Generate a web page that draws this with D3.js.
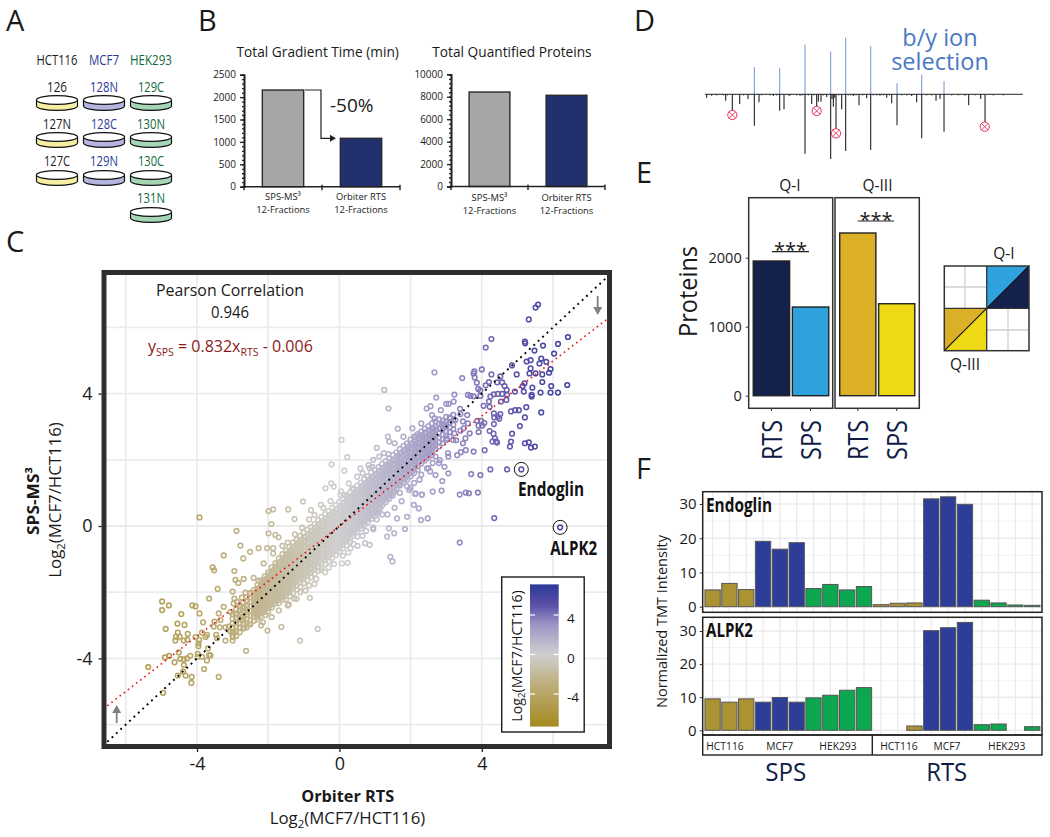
<!DOCTYPE html>
<html><head><meta charset="utf-8">
<script src="https://cdn.jsdelivr.net/npm/d3@7"></script>
<style>
html,body{margin:0;padding:0;background:#fff}
svg{display:block}
text{font-family:"Open Sans","Noto Sans",sans-serif;fill:#1a1a1a}
</style></head><body>
<svg id="c" width="1050" height="837"></svg>
<script>
// ---------- DATA ----------
const plexLabels=[["126","127N","127C"],["128N","128C","129N"],["129C","130N","130C","131N"]];
const cellLines=["HCT116","MCF7","HEK293"];
const gradientTime=[2158,1080];
const quantProteins=[8420,8130];
const methodLabels=["SPS-MS³","Orbiter RTS"];
const mzBlue=[343,419,495,572,617,692,771,845,912];
const intBlue=[81,78,149,128,170,144,33,59,39];
const mzBlack=[200,215,257,277,299,324,343,357,400,419,432,450,480,495,515,530,535,543,560,572,576,580,584,588,605,617,640,657,680,692,720,740,755,771,815,830,845,888,900,912,975,986,1022,1035];
const intBlack=[10,4,19,55,29,14,94,24,5,49,45,4,4,178,29,50,22,22,8,194,14,37,10,110,45,170,5,33,12,167,4,10,27,93,5,24,132,19,14,112,4,33,14,95];
const mzMarked=[277,530,588,1034];
const intMarked=[62,50,117,97];
const quadLabels=["RTS","SPS","RTS","SPS"];
const quadValues=[1952,1285,2358,1333];
const quadColors=["#14224B","#2FA1DC","#DBB026","#EDD916"];
const endoglin=[4.9,6.8,5.0,19.1,16.8,18.7,5.3,6.5,4.9,5.9,0.6,1.0,1.1,31.5,32.1,29.9,1.9,1.1,0.5,0.4];
const alpk2=[9.5,8.5,9.5,8.5,9.9,8.5,9.8,10.6,12.1,12.9,0,0,1.3,30.1,31.0,32.6,1.7,1.9,0,1.1];
const channelGroup=["H","H","H","M","M","M","K","K","K","K","H","H","H","M","M","M","K","K","K","K"];
const fitSlope=0.832, fitIntercept=-0.006;
const highlighted=[[5.11,1.71],[6.2,-0.04]];
// scatter: [RTS, SPS] log2 ratios
const scatterHigh=[[5.58,6.69],[5.51,6.6],[5.32,6.24],[6.42,5.71],[6.14,5.5],[5.72,5.45],[5.21,5.57],[5.22,5.52],[5.48,5.3],[4.27,5.65],[4.11,5.39],[6.03,5.21],[5.67,5.06],[5.37,5.01],[5.26,4.97],[5.62,4.91],[5.81,4.96],[5.93,4.74],[5.37,4.76],[4.85,4.85],[5.89,4.63],[5.51,4.61],[5.7,4.58],[5.34,4.61],[4.98,4.58],[4.27,4.58],[4,4.73],[3.79,4.67],[3.77,4.61],[3.8,4.49],[3.45,4.47],[2.67,4.64],[4.52,4.52],[5.7,4.35],[5.2,4.31],[5.15,4.23],[5.95,4.23],[6.4,4.26],[5.42,4.18],[4.2,4.35],[4.43,4.34],[4.11,4.25],[3.86,4.33],[3.9,4.14],[3.96,4.09],[4.57,4.34],[4.64,4.23],[4.7,4.11],[4.93,4.06],[5.18,4.06],[5.65,4.03],[5.93,4.03],[6.14,4.03],[5.4,3.96],[5.4,3.91],[4.24,3.91],[4.34,3.98],[4.45,3.99],[4.57,3.99],[4.71,3.96],[3.77,3.92],[3.61,3.96],[3.68,3.93],[3.23,3.97],[2.72,3.88],[3.96,3.93],[4.2,3.76],[4.69,3.81],[3.21,3.76],[3.07,3.69],[3,3.69],[2.56,3.62],[2.45,3.55],[3.39,3.54],[4.05,3.63],[4.22,3.6],[4.54,3.76],[5.25,3.59],[5.04,3.5],[4.94,3.5],[4.82,3.46],[5.67,3.43],[4.34,3.4],[4.52,3.38],[4.45,3.3],[4.35,3.28],[4.49,3.24],[3.59,3.35],[3.4,3.38],[3.12,3.25],[2.67,3.25],[3.26,3.2],[3.47,3.16],[3.87,3.18],[3.98,3.18],[4.07,3.11],[4.34,3.08],[3.61,3.1],[5.21,3.28],[5.07,3.02],[3.49,2.95],[3.91,3.03],[4.01,3.03],[4.85,2.79],[4.22,2.87],[4.33,2.79],[3.66,2.8],[3.91,2.84],[3.23,2.8],[3.4,2.88],[2.95,3.08],[2.88,3.08],[2.84,2.95],[2.4,2.82],[2.26,2.75],[2.15,2.7],[1.64,2.94],[1.36,2.7],[1.4,2.55],[1.26,4.11],[1.38,3.55],[4.82,2.55],[4.79,2.4],[5.21,2.5],[5.32,2.53],[5.38,2.37],[5.49,2.4],[4.4,2.55],[4.3,2.55],[4.37,2.65],[4.43,2.52],[3.54,2.65],[3.47,2.5],[3.28,2.59],[3.02,2.64],[3.77,2.25],[4.08,2.29],[3.55,2.29],[3.41,2.23],[3.31,2.14],[3.06,2.1],[4.24,1.71],[4.71,1.71],[5.11,1.71],[3.7,1.57],[3.96,1.54],[3.06,1.59],[2.7,1.54],[2.89,1.36],[2.87,1.07],[2.62,1.04],[3.38,0.95],[3.55,1.01],[3.64,0.99],[3.89,1.01],[2.31,0.95],[2.14,0.99],[1.96,1.09],[1.71,1.26],[2.46,1.74],[2.95,1.79],[2.82,1.99],[2.7,2.1],[4.35,0.24],[3.38,-0.5],[6.2,-0.04],[1.43,-0.93],[1.49,-1.07]];
const scatterLow=[[-3.93,0.26],[-2.89,-0.15],[-4.98,-2.28],[-4.79,-2.4],[-4.98,-2.54],[-4.13,-2.4],[-4.04,-2.43],[-4.44,-2.66],[-3.93,-2.64],[-3.66,-2.19],[-3.42,-1.9],[-3.25,-0.89],[-2.78,-0.59],[-2.51,-0.78],[-2.7,-0.98],[-3.56,-1.25],[-3.52,-1.34],[-2.95,-1.36],[-2.92,-1.63],[-2.84,-1.72],[-2.69,-1.6],[-3.83,-2.91],[-4.55,-2.95],[-4.35,-2.99],[-4.88,-3.11],[-4.54,-3.22],[-4.26,-3.26],[-4.59,-3.34],[-4.49,-3.34],[-4.37,-3.46],[-4.27,-3.44],[-4.61,-3.46],[-4.04,-3.36],[-3.94,-3.44],[-3.96,-3.55],[-3.96,-3.63],[-3.86,-3.22],[-3.72,-3.29],[-3.76,-3.35],[-3.53,-3.04],[-3.39,-2.64],[-3.25,-2.44],[-3.34,-2.84],[-3.51,-2.89],[-3.36,-3.06],[-3.2,-3.06],[-3.11,-3.04],[-3.46,-3.29],[-3.44,-3.39],[-3.2,-3.46],[-3.06,-3.19],[-2.97,-3.22],[-2.99,-3.36],[-2.74,-2.76],[-2.67,-3.08],[-2.53,-2.96],[-2.62,-3.77],[-2.02,-3.16],[-1.63,-3.05],[-1.11,-3.46],[-0.61,-3.11],[-4.51,-3.82],[-4.78,-3.92],[-4.9,-3.97],[-4.47,-4.01],[-4.37,-4.03],[-4.28,-4],[-4.19,-3.92],[-4.63,-4.12],[-4.37,-4.2],[-4.39,-4.4],[-4.32,-4.52],[-4.15,-4.56],[-4.16,-4.74],[-4.54,-4.52],[-4.95,-5.04],[-5.37,-4.26],[-3.8,-4.32],[-3.72,-4.06],[-3.39,-4.56],[-3.69,-3.7],[-3.66,-3.9],[-3.62,-3.91],[-3.98,-3.86],[-3.98,-3.95],[-3.86,-3.95],[-3,-1.98],[-2.95,-2.19],[-2.88,-2.29],[-2.74,-2.16],[-2.64,-2.01],[-2.5,-2.05],[-2.41,-1.57],[-2.27,-1.65],[-2.13,-1.63],[-2.13,-1.13],[-2.03,-0.67],[-1.86,-0.67],[-2.27,-0.67],[-1.86,-0.83],[-1.99,-0.22],[-1.8,-0.27],[-1.71,-0.34],[-1.91,0.06],[-1.99,0.45],[-1.27,-2.19],[-0.83,-2.17],[-1.42,-2.37],[-1.63,-2.1],[-2.15,-2.91],[-2.31,-2.74],[-2.27,-2.54],[-2.08,-2.69],[-2.59,-2.59],[-2.41,-2.64],[-2.97,-2.34],[-2.78,-2.44],[-2.69,-2.49],[-2.59,-2.39],[-3.06,-2.59],[-2.88,-2.64],[-2.74,-2.84]];
const scatterFringe=[[0.06,2.6],[1.05,2.36],[1.38,2.17],[0.22,2.08],[-0.22,1.86],[0.14,1.67],[-0.39,1.14],[-0.16,1.19],[-0.23,1.29],[-1.02,0.74],[-1.44,0.5],[-1.86,0.5],[-1.26,0.21],[-0.52,0.64],[-0.8,0.48],[-0.7,0.33],[0.07,-1.13],[0.23,-1.11],[-0.51,-1.33],[1.84,-0.09],[1.39,-0.07],[1.54,-0.22],[1.34,-0.32],[0.85,-0.57],[0.72,-0.52],[0.5,-0.32],[0.51,-0.6],[0.31,-0.67],[2.09,0.64],[2.23,0.53],[1.62,0.23],[1.9,0.28],[2.29,0.18],[2.48,0.23],[2.13,0.97],[2.32,0.95],[1.32,1.74],[0.92,1.79],[0.59,1.74],[0.82,1.84],[0.5,1.49],[0.26,1.29],[0.36,1.14],[0.03,0.94],[0.12,0.94],[0.22,0.89],[0.95,2],[1.12,2.1],[1.7,1.0],[1.9,1.2],[2.1,1.3],[2.3,1.55],[2.5,1.75],[2.62,1.9],[1.2,0.35],[1.05,0.2],[0.95,-0.05],[0.75,-0.15],[-0.3,-1.25],[-0.65,-1.6],[-0.85,-1.8],[-1.1,-2.0],[-0.4,-1.4],[0.1,-0.9],[0.25,-0.8],[-1.6,-0.6],[-1.45,-0.5],[-1.25,-0.25],[-1.05,-0.05],[-0.85,0.2],[-0.45,0.55],[-0.25,0.75],[0.05,1.05],[0.65,1.6],[0.85,1.75],[1.25,2.2],[1.55,2.5],[1.8,2.7],[2.05,2.95],[2.3,3.1],[2.6,3.35],[2.85,3.5],[-2.2,-3.0],[-1.9,-2.75],[-1.7,-2.55],[-1.45,-2.4],[-1.2,-2.2],[-0.95,-1.95],[-0.7,-1.75],[-0.15,-1.15],[0.4,-0.55],[0.65,-0.3],[0.95,-0.1],[1.35,0.35],[1.55,0.55],[1.75,0.75],[2.0,1.15],[2.25,1.4],[2.55,1.65],[2.8,1.9],[3.05,2.2],[3.2,2.6]];
// dense core: first number is RTS, the rest are SPS readings at that RTS
const coreRows=[
[-3,-2.66,-2.8,-2.94,-3.07,-3.2,-3.33,-3.46],[-2.9,-2.52,-2.66,-2.79,-2.92,-3.05,-3.19,-3.32],[-2.8,-2.4,-2.53,-2.67,-2.81,-2.94,-3.07,-3.21],[-2.7,-2.3,-2.44,-2.57,-2.7,-2.83,-2.97,-3.1],[-2.6,-2.15,-2.28,-2.42,-2.55,-2.68,-2.81,-2.95,-3.06],[-2.5,-2.02,-2.16,-2.3,-2.43,-2.56,-2.7,-2.84,-2.97],[-2.4,-1.93,-2.06,-2.2,-2.33,-2.46,-2.6,-2.73,-2.86],[-2.3,-1.78,-1.92,-2.05,-2.18,-2.31,-2.45,-2.58,-2.72,-2.82],[-2.2,-1.65,-1.79,-1.93,-2.06,-2.2,-2.33,-2.46,-2.6,-2.73],[-2.1,-1.52,-1.66,-1.8,-1.94,-2.07,-2.2,-2.34,-2.47,-2.6],[-2,-1.4,-1.54,-1.68,-1.81,-1.95,-2.08,-2.21,-2.35,-2.48,-2.58],[-1.9,-1.25,-1.39,-1.53,-1.67,-1.8,-1.93,-2.06,-2.2,-2.33,-2.46],[-1.8,-1.12,-1.26,-1.4,-1.54,-1.68,-1.81,-1.94,-2.08,-2.21,-2.34],[-1.7,-0.98,-1.12,-1.26,-1.4,-1.54,-1.67,-1.8,-1.94,-2.07,-2.2,-2.33],[-1.6,-0.85,-1,-1.14,-1.28,-1.42,-1.56,-1.69,-1.83,-1.96,-2.1,-2.23],[-1.5,-0.74,-0.88,-1.02,-1.16,-1.3,-1.44,-1.57,-1.71,-1.84,-1.98,-2.11,-2.22],[-1.4,-0.62,-0.76,-0.9,-1.04,-1.18,-1.32,-1.46,-1.6,-1.73,-1.87,-2,-2.12],[-1.3,-0.5,-0.64,-0.78,-0.92,-1.06,-1.2,-1.34,-1.47,-1.61,-1.75,-1.88,-2.02],[-1.2,-0.42,-0.56,-0.7,-0.84,-0.98,-1.12,-1.26,-1.39,-1.53,-1.67,-1.8,-1.92],[-1.1,-0.3,-0.45,-0.59,-0.73,-0.87,-1.01,-1.15,-1.28,-1.42,-1.56,-1.7,-1.84],[-1,-0.2,-0.34,-0.48,-0.62,-0.76,-0.9,-1.04,-1.18,-1.32,-1.46,-1.6,-1.73],[-0.9,-0.12,-0.26,-0.4,-0.54,-0.68,-0.82,-0.96,-1.09,-1.23,-1.37,-1.51,-1.64],[-0.8,-0.03,-0.17,-0.31,-0.45,-0.59,-0.73,-0.87,-1,-1.14,-1.28,-1.42,-1.55],[-0.7,0.06,-0.08,-0.22,-0.36,-0.5,-0.64,-0.78,-0.91,-1.05,-1.19,-1.33,-1.45],[-0.6,0.17,0.03,-0.11,-0.25,-0.39,-0.53,-0.67,-0.81,-0.95,-1.08,-1.22,-1.36],[-0.5,0.28,0.14,0,-0.14,-0.28,-0.42,-0.56,-0.7,-0.84,-0.98,-1.12,-1.26],[-0.4,0.36,0.22,0.08,-0.06,-0.2,-0.34,-0.48,-0.62,-0.76,-0.9,-1.03,-1.15],[-0.3,0.45,0.31,0.17,0.03,-0.11,-0.25,-0.39,-0.53,-0.67,-0.81,-0.95,-1.06],[-0.2,0.55,0.41,0.27,0.13,-0.01,-0.15,-0.29,-0.43,-0.57,-0.71,-0.85,-0.96],[-0.1,0.63,0.49,0.35,0.21,0.07,-0.07,-0.21,-0.35,-0.49,-0.63,-0.77,-0.88],[0,0.73,0.59,0.45,0.31,0.17,0.03,-0.11,-0.25,-0.39,-0.53,-0.67,-0.78],[0.1,0.82,0.68,0.54,0.4,0.26,0.12,-0.02,-0.16,-0.3,-0.44,-0.58,-0.68],[0.2,0.93,0.79,0.65,0.51,0.37,0.23,0.09,-0.05,-0.19,-0.33,-0.47,-0.58],[0.3,1.02,0.88,0.74,0.6,0.46,0.32,0.18,0.04,-0.1,-0.24,-0.38,-0.48],[0.4,1.1,0.96,0.82,0.68,0.54,0.4,0.26,0.12,-0.02,-0.16,-0.29],[0.5,1.22,1.08,0.94,0.8,0.66,0.52,0.38,0.24,0.1,-0.04,-0.17],[0.6,1.31,1.17,1.03,0.89,0.75,0.61,0.47,0.33,0.19,0.05,-0.08],[0.7,1.42,1.28,1.14,1,0.86,0.72,0.58,0.44,0.3,0.16,0.03],[0.8,1.5,1.36,1.22,1.08,0.94,0.8,0.66,0.52,0.38,0.24,0.11],[0.9,1.62,1.48,1.34,1.2,1.06,0.92,0.78,0.64,0.5,0.36,0.22],[1,1.7,1.56,1.42,1.28,1.14,1,0.86,0.72,0.58,0.44,0.31],[1.1,1.78,1.64,1.5,1.36,1.22,1.08,0.94,0.8,0.66,0.52,0.4],[1.2,1.88,1.74,1.6,1.46,1.32,1.18,1.04,0.9,0.76,0.62],[1.3,1.96,1.82,1.68,1.54,1.4,1.26,1.12,0.98,0.84,0.72],[1.4,2.05,1.91,1.77,1.63,1.49,1.35,1.21,1.07,0.93,0.82],[1.5,2.14,2,1.86,1.72,1.58,1.44,1.3,1.16,1.02,0.92],[1.6,2.22,2.08,1.94,1.8,1.66,1.52,1.38,1.24,1.12],[1.7,2.33,2.19,2.05,1.91,1.77,1.63,1.49,1.35,1.22],[1.8,2.42,2.28,2.14,2,1.86,1.72,1.58,1.44,1.32],[1.9,2.5,2.36,2.22,2.08,1.94,1.8,1.66,1.52,1.4],[2,2.62,2.48,2.34,2.2,2.06,1.92,1.78,1.64,1.5],[2.1,2.7,2.56,2.42,2.28,2.14,2,1.86,1.72,1.6],[2.2,2.78,2.64,2.5,2.36,2.22,2.08,1.94,1.8,1.7],[2.3,2.85,2.71,2.57,2.43,2.29,2.15,2.01,1.88],[2.4,2.94,2.8,2.66,2.52,2.38,2.24,2.1,1.98],[2.5,3.02,2.88,2.74,2.6,2.46,2.32,2.18,2.06],[2.6,3.1,2.96,2.82,2.68,2.54,2.4,2.26,2.14],[2.7,3.16,3.02,2.88,2.74,2.6,2.46,2.32],[2.8,3.22,3.08,2.94,2.8,2.66,2.52,2.4],[2.9,3.18,3.04,2.9,2.76,2.62,2.5],[3,3.3,3.14,3,2.86,2.72,2.6],[3.1,3.28,3.12,2.98,2.84,2.7],[3.2,3.36,3.2,3.06,2.92]];
const coreRowsInner=[
[-2.35,-2,-2.13,-2.26,-2.39,-2.53,-2.66],[-2.25,-1.86,-2,-2.13,-2.26,-2.39,-2.52,-2.66],[-2.15,-1.73,-1.86,-2,-2.13,-2.27,-2.4,-2.54],[-2.05,-1.6,-1.74,-1.88,-2.01,-2.15,-2.28,-2.41],[-1.95,-1.46,-1.6,-1.74,-1.87,-2,-2.14,-2.27,-2.4],[-1.85,-1.33,-1.47,-1.6,-1.74,-1.87,-2.01,-2.14,-2.28],[-1.75,-1.19,-1.33,-1.47,-1.61,-1.74,-1.88,-2.01,-2.15,-2.26],[-1.65,-1.07,-1.21,-1.35,-1.49,-1.62,-1.76,-1.9,-2.03,-2.17],[-1.55,-0.95,-1.09,-1.23,-1.37,-1.5,-1.64,-1.78,-1.91,-2.05],[-1.45,-0.83,-0.97,-1.11,-1.25,-1.39,-1.53,-1.66,-1.8,-1.94],[-1.35,-0.71,-0.85,-0.99,-1.13,-1.27,-1.41,-1.54,-1.68,-1.82],[-1.25,-0.6,-0.74,-0.88,-1.02,-1.16,-1.3,-1.43,-1.57,-1.71],[-1.15,-0.5,-0.64,-0.78,-0.92,-1.06,-1.2,-1.34,-1.48,-1.62],[-1.05,-0.41,-0.55,-0.69,-0.83,-0.97,-1.11,-1.25,-1.39,-1.53],[-0.95,-0.33,-0.47,-0.61,-0.75,-0.89,-1.03,-1.16,-1.3,-1.44],[-0.85,-0.24,-0.38,-0.52,-0.66,-0.8,-0.94,-1.07,-1.21,-1.35],[-0.75,-0.15,-0.29,-0.43,-0.57,-0.71,-0.85,-0.98,-1.12,-1.26],[-0.65,-0.04,-0.18,-0.32,-0.46,-0.6,-0.74,-0.88,-1.02,-1.15],[-0.55,0.07,-0.07,-0.21,-0.35,-0.49,-0.63,-0.77,-0.91,-1.05],[-0.45,0.15,0.01,-0.13,-0.27,-0.41,-0.55,-0.69,-0.83,-0.96],[-0.35,0.24,0.1,-0.04,-0.18,-0.32,-0.46,-0.6,-0.74,-0.88],[-0.25,0.34,0.2,0.06,-0.08,-0.22,-0.36,-0.5,-0.64,-0.78],[-0.15,0.42,0.28,0.14,0,-0.14,-0.28,-0.42,-0.56,-0.7],[-0.05,0.52,0.38,0.24,0.1,-0.04,-0.18,-0.32,-0.46,-0.6],[0.05,0.61,0.47,0.33,0.19,0.05,-0.09,-0.23,-0.37,-0.51],[0.15,0.72,0.58,0.44,0.3,0.16,0.02,-0.12,-0.26,-0.4],[0.25,0.81,0.67,0.53,0.39,0.25,0.11,-0.03,-0.17,-0.31],[0.35,0.89,0.75,0.61,0.47,0.33,0.19,0.05,-0.09,-0.23],[0.45,1.01,0.87,0.73,0.59,0.45,0.31,0.17,0.03,-0.11],[0.55,1.1,0.96,0.82,0.68,0.54,0.4,0.26,0.12,-0.02],[0.65,1.21,1.07,0.93,0.79,0.65,0.51,0.37,0.23,0.09],[0.75,1.29,1.15,1.01,0.87,0.73,0.59,0.45,0.31,0.17],[0.85,1.41,1.27,1.13,0.99,0.85,0.71,0.57,0.43,0.29],[0.95,1.49,1.35,1.21,1.07,0.93,0.79,0.65,0.51,0.37],[1.05,1.57,1.43,1.29,1.15,1.01,0.87,0.73,0.59,0.45],[1.15,1.67,1.53,1.39,1.25,1.11,0.97,0.83,0.69,0.55],[1.25,1.75,1.61,1.47,1.33,1.19,1.05,0.91,0.77],[1.35,1.84,1.7,1.56,1.42,1.28,1.14,1,0.86],[1.45,1.93,1.79,1.65,1.51,1.37,1.23,1.09,0.95],[1.55,2.01,1.87,1.73,1.59,1.45,1.31,1.17,1.03],[1.65,2.12,1.98,1.84,1.7,1.56,1.42,1.28],[1.75,2.21,2.07,1.93,1.79,1.65,1.51,1.37],[1.85,2.29,2.15,2.01,1.87,1.73,1.59,1.45],[1.95,2.41,2.27,2.13,1.99,1.85,1.71,1.57],[2.05,2.49,2.35,2.21,2.07,1.93,1.79,1.65],[2.15,2.57,2.43,2.29,2.15,2.01,1.87],[2.25,2.64,2.5,2.36,2.22,2.08,1.94],[2.35,2.73,2.59,2.45,2.31,2.17,2.03],[2.45,2.81,2.67,2.53,2.39,2.25,2.11],[2.55,2.89,2.75,2.61,2.47,2.33,2.19],[2.65,2.95,2.81,2.67,2.53,2.39]];
const colorStops=[-7.3,-3,0,3,5,7.1];
const colorRange=["#A58A20","#BDAE7C","#CFCFCF","#9C96C6","#5A50A8","#2B3A97"];
const NAVY="#101B45", FRAME="#2e2e2e";

// ---------- HELPERS ----------
const svg=d3.select("#c");
function T(p,x,y,s,o={}){
  const t=p.append("text").attr("x",x).attr("y",y).text(s)
   .attr("font-size",o.size||12).attr("text-anchor",o.anchor||"middle");
  if(o.fill)t.style("fill",o.fill);
  if(o.weight)t.attr("font-weight",o.weight);
  if(o.len)t.attr("textLength",o.len).attr("lengthAdjust","spacingAndGlyphs");
  if(o.rot)t.attr("transform",`rotate(${o.rot},${x},${y})`);
  return t;
}
function logLabel(p,x,y,size,o={}){
  const t=T(p,x,y,"Log",{size,...o});
  t.append("tspan").attr("dy",size*0.25).attr("font-size",size*0.68).text("2");
  t.append("tspan").attr("dy",-size*0.25).text("(MCF7/HCT116)");
  return t;
}
["A","B","C","D","E","F"].forEach((l,i)=>{
  const pos=[[6,31],[198,31],[6,252],[634,31],[636,183],[636,479]][i];
  T(svg,pos[0],pos[1],l,{size:29,anchor:"start"});
});

// ---------- A ----------
const gA=svg.append("g");
const dishCol=["#F6EEA2","#B5B4DE","#A4D6B6"];
const txtCol=["#1c1c1c","#2B3A97","#0E6B3A"];
const colX=d3.scalePoint().domain(cellLines).range([57,151]);
const rowBase=[92,129,166,203];
const rowDish=[100,137,175,212];
const headLen=[41,30,42];
cellLines.forEach((c,i)=>{
  const cx=colX(c);
  T(gA,cx,65,c,{size:15,fill:txtCol[i],len:headLen[i]});
  plexLabels[i].forEach((lab,r)=>{
    T(gA,cx,rowBase[r],lab,{size:15,fill:txtCol[i],len:lab.length===3?20:(lab.endsWith("C")?26:28)});
    const y=rowDish[r],rx=20.5,ry=4.4,h=6;
    gA.append("path").attr("d",`M${cx-rx},${y}v${h}A${rx},${ry} 0 0 0 ${cx+rx},${y+h}v${-h}z`)
      .attr("fill",dishCol[i]).attr("stroke","#111").attr("stroke-width",1.2);
    gA.append("ellipse").attr("cx",cx).attr("cy",y).attr("rx",rx).attr("ry",ry)
      .attr("fill","#fff").attr("stroke","#111").attr("stroke-width",1.2);
  });
});

// ---------- B ----------
function barB(cfg){
  const g=svg.append("g");
  const y=d3.scaleLinear().domain([0,cfg.max]).range([cfg.y0,cfg.y1]);
  const x=d3.scaleBand().domain(methodLabels).range([cfg.x0,cfg.x1]).paddingInner(0.47).paddingOuter(0.235);
  const minor=g.append("g").attr("transform",`translate(${cfg.x0},0)`)
    .call(d3.axisLeft(y).tickValues(d3.range(0,cfg.max+1,cfg.max/25)).tickSize(2).tickFormat(""));
  const major=g.append("g").attr("transform",`translate(${cfg.x0},0)`)
    .call(d3.axisLeft(y).tickValues(d3.range(0,cfg.max+1,cfg.max/5)).tickSize(4).tickPadding(4).tickFormat(d3.format("d")));
  major.selectAll("text").attr("font-size",10).style("font-family",'"Open Sans"');
  [minor,major].forEach(a=>{a.selectAll("path,line").attr("stroke","#222").attr("stroke-width",1.3);a.select(".domain").attr("stroke-width",1.6);});
  g.selectAll("rect.b").data(cfg.vals).join("rect").attr("class","b")
   .attr("x",(d,i)=>x(methodLabels[i])).attr("width",x.bandwidth())
   .attr("y",d=>y(d)).attr("height",d=>cfg.y0-y(d))
   .attr("fill",(d,i)=>i?"#22306E":"#A6A6A6").attr("stroke","#2a2a2a").attr("stroke-width",1.4);
  g.append("line").attr("x1",cfg.x0).attr("x2",cfg.x1).attr("y1",cfg.y0).attr("y2",cfg.y0).attr("stroke","#222").attr("stroke-width",1.6);
  [cfg.x0,(cfg.x0+cfg.x1)/2,cfg.x1].forEach(v=>g.append("line").attr("x1",v).attr("x2",v).attr("y1",cfg.y0-2).attr("y2",cfg.y0+3.5).attr("stroke","#222").attr("stroke-width",1.4));
  methodLabels.forEach((m,i)=>{
    const cx=x(m)+x.bandwidth()/2;
    T(g,cx,cfg.lab,m,{size:9.4});
    T(g,cx,cfg.lab+13,"12-Fractions",{size:9.4});
  });
  T(g,cfg.tx,57,cfg.title,{size:13.7});
  return {g,x,y};
}
const b1=barB({x0:244,x1:400,y0:186.7,y1:74.7,max:2500,vals:gradientTime,title:"Total Gradient Time (min)",lab:199.5,tx:317.7});
barB({x0:451,x1:605,y0:186.5,y1:74.3,max:10000,vals:quantProteins,title:"Total Quantified Proteins",lab:201,tx:512});
const ay=b1.y(gradientTime[0]), ay2=b1.y(gradientTime[1]);
b1.g.append("path").attr("d",`M305,${ay}H321V${ay2}H330`).attr("fill","none").attr("stroke","#222").attr("stroke-width",1.2);
b1.g.append("path").attr("d",`M330,${ay2-3.5}L336,${ay2}L330,${ay2+3.5}z`).attr("fill","#222");
T(b1.g,330,112,"-50%",{size:19,anchor:"start"});

// ---------- C ----------
const gC=svg.append("g");
const xC=d3.scaleLinear().domain([-4,4]).range([197,481.8]);
const yC=d3.scaleLinear().domain([-4,4]).range([658.4,393.6]);
const L=104,R=609.5,TOP=272.5,BOT=746.5;
const gridC=[-6,-4,-2,0,2,4,6];
gridC.forEach(v=>{
  gC.append("line").attr("x1",xC(v)).attr("x2",xC(v)).attr("y1",TOP).attr("y2",BOT).attr("stroke","#EBEBEB").attr("stroke-width",1.8);
  gC.append("line").attr("x1",L).attr("x2",R).attr("y1",yC(v)).attr("y2",yC(v)).attr("stroke","#EBEBEB").attr("stroke-width",1.8);
});
const colC=d3.scaleLinear().domain(colorStops).range(colorRange);
const expand=rows=>rows.flatMap(r=>r.slice(1).map(s=>[r[0],s]));
const allPts=[...expand(coreRows),...expand(coreRowsInner),...scatterFringe,...scatterLow,...scatterHigh];
gC.append("g").selectAll("circle").data(allPts).join("circle")
  .attr("cx",d=>xC(d[0])).attr("cy",d=>yC(d[1])).attr("r",2.35)
  .attr("fill","none").attr("stroke",d=>colC(d[0])).attr("stroke-width",1.5);
const lineData=[-6.52,7.53];
gC.append("line").attr("x1",xC(lineData[0])).attr("y1",yC(lineData[0])).attr("x2",xC(lineData[1])).attr("y2",yC(lineData[1]))
  .attr("stroke","#000").attr("stroke-width",1.9).attr("stroke-dasharray","1.9 4.1");
const fit=v=>fitSlope*v+fitIntercept;
gC.append("line").attr("x1",xC(lineData[0])).attr("y1",yC(fit(lineData[0]))).attr("x2",xC(lineData[1])).attr("y2",yC(fit(lineData[1])))
  .attr("stroke","#F01010").attr("stroke-width",1.6).attr("stroke-dasharray","1.6 3.6");
highlighted.forEach(p=>gC.append("circle").attr("cx",xC(p[0])).attr("cy",yC(p[1])).attr("r",7).attr("fill","none").attr("stroke","#111").attr("stroke-width",1));
// grey arrows
[[597.7,296,597.7,309],[116.7,723,116.7,711]].forEach(a=>{
  gC.append("line").attr("x1",a[0]).attr("y1",a[1]).attr("x2",a[2]).attr("y2",a[3]).attr("stroke","#808080").attr("stroke-width",1.8);
  const d=a[3]>a[1]?1:-1;
  gC.append("path").attr("d",`M${a[0]-4.5},${a[3]-d*2}L${a[0]+4.5},${a[3]-d*2}L${a[0]},${a[3]+d*6}z`).attr("fill","#808080");
});
// frame and axes
gC.append("rect").attr("x",L).attr("y",TOP).attr("width",R-L).attr("height",BOT-TOP).attr("fill","none").attr("stroke",FRAME).attr("stroke-width",5);
const axB=gC.append("g").attr("transform",`translate(0,${BOT+2.5})`).call(d3.axisBottom(xC).tickValues([-4,0,4]).tickSize(3).tickPadding(5).tickFormat(d=>d));
const axL=gC.append("g").attr("transform",`translate(${L-2.5},0)`).call(d3.axisLeft(yC).tickValues([-4,0,4]).tickSize(3).tickPadding(6).tickFormat(d=>d));
[axB,axL].forEach(a=>{a.select(".domain").remove();a.selectAll("line").attr("stroke","#222").attr("stroke-width",1.3);a.selectAll("text").attr("font-size",18).style("font-family",'"Open Sans"');});
T(gC,230,295.5,"Pearson Correlation",{size:16,len:148});
T(gC,230,317.7,"0.946",{size:15.5,len:38});
const eq=T(gC,148,352,"y",{size:16,anchor:"start",fill:"#8B1A1A"});
eq.append("tspan").attr("dy",4).attr("font-size",10.5).text("SPS");
eq.append("tspan").attr("dy",-4).text(" = 0.832x");
eq.append("tspan").attr("dy",4).attr("font-size",10.5).text("RTS");
eq.append("tspan").attr("dy",-4).text(" - 0.006");
T(gC,551,496,"Endoglin",{size:19.5,weight:700,fill:"#111",len:66});
T(gC,573.7,555,"ALPK2",{size:19.5,weight:700,fill:"#111",len:47});
T(gC,347.7,801.7,"Orbiter RTS",{size:16.5,weight:700,len:93});
logLabel(gC,347.5,824,16.8);
T(gC,39,501,"SPS-MS³",{size:16,weight:700,rot:-90,len:68});
logLabel(gC,61,500,16.8,{rot:-90});
// legend
const lg=gC.append("g");
lg.append("rect").attr("x",501.7).attr("y",577).attr("width",82.5).attr("height",155).attr("fill","#fff").attr("stroke","#1a1a1a").attr("stroke-width",1.4);
const grad=svg.append("defs").append("linearGradient").attr("id","lg").attr("x1",0).attr("y1",1).attr("x2",0).attr("y2",0);
const yLeg=d3.scaleLinear().domain([-4,4]).range([694,615]);
colorStops.forEach((v,i)=>grad.append("stop").attr("offset",(v-colorStops[0])/(colorStops[5]-colorStops[0])).attr("stop-color",colorRange[i]));
lg.append("rect").attr("x",530).attr("y",yLeg(colorStops[5])).attr("width",28.7).attr("height",yLeg(colorStops[0])-yLeg(colorStops[5])).attr("fill","url(#lg)");
[4,0,-4].forEach(v=>{
  [[530,535],[553.7,558.7]].forEach(s=>lg.append("line").attr("x1",s[0]).attr("x2",s[1]).attr("y1",yLeg(v)).attr("y2",yLeg(v)).attr("stroke","#fff").attr("stroke-width",1.2));
  T(lg,567,yLeg(v)+8,String(v),{size:13.5,anchor:"start"});
});
logLabel(lg,521.5,656,14.2,{rot:-90});

// ---------- D ----------
const gD=svg.append("g");
const xD=d3.scaleLinear().domain([195,1148]).range([705,1022.7]);
const yD=d3.scaleLinear().domain([-200,200]).range([94.3+66.7,94.3-66.7]);
const noiseMz=[230,250,262,310,365,390,410,445,470,487,505,522,550,596,625,632,648,668,700,710,730,748,785,800,860,875,935,955,1005,1060,1090];
gD.selectAll("line.n").data(noiseMz).join("line").attr("class","n").attr("x1",d=>xD(d)).attr("x2",d=>xD(d)).attr("y1",yD(0)).attr("y2",yD(-4)).attr("stroke","#222").attr("stroke-width",.7);
mzBlue.forEach((m,i)=>gD.append("line").attr("x1",xD(m)).attr("x2",xD(m)).attr("y1",yD(0)).attr("y2",yD(intBlue[i])).attr("stroke","#7F9FD8").attr("stroke-width",1.1));
mzBlack.forEach((m,i)=>gD.append("line").attr("x1",xD(m)).attr("x2",xD(m)).attr("y1",yD(0)).attr("y2",yD(-intBlack[i])).attr("stroke","#222").attr("stroke-width",1.1));
gD.append("line").attr("x1",xD(195)).attr("x2",xD(1148)).attr("y1",yD(0)).attr("y2",yD(0)).attr("stroke","#222").attr("stroke-width",1);
mzMarked.forEach((m,i)=>{
  const cx=xD(m),cy=yD(-intMarked[i]);
  gD.append("circle").attr("cx",cx).attr("cy",cy).attr("r",4.6).attr("fill","#fff").attr("stroke","#E8305A").attr("stroke-width",1);
  gD.append("path").attr("d",`M${cx-3.6},${cy-3.6}L${cx+3.6},${cy+3.6}M${cx-3.6},${cy+3.6}L${cx+3.6},${cy-3.6}`).attr("fill","none").attr("stroke","#E8305A").attr("stroke-width",.9);
});
const ionT=T(gD,940,46,"b/y ion",{size:23.5,fill:"#4A78C4"});
ionT.append("tspan").attr("x",940).attr("dy",23.5).text("selection");

// ---------- E ----------
const gE=svg.append("g");
const yE=d3.scaleLinear().domain([0,2000]).range([395.7,257.7]);
const panelsE=[[748.7,832.7],[835,919.3]];
const xE=[d3.scaleBand().domain([0,1]).range([750.5,831.5]).padding(0.07),d3.scaleBand().domain([2,3]).range([837,917.5]).padding(0.07)];
quadValues.forEach((v,i)=>{
  const sc=xE[i<2?0:1];
  gE.append("rect").attr("x",sc(i)).attr("width",sc.bandwidth()).attr("y",yE(v)).attr("height",yE(0)-yE(v))
    .attr("fill",quadColors[i]).attr("stroke","#222").attr("stroke-width",1.4);
  const cx=sc(i)+sc.bandwidth()/2;
  gE.append("line").attr("x1",cx).attr("x2",cx).attr("y1",408.3).attr("y2",411).attr("stroke","#333");
  T(gE,cx+10.5,420,quadLabels[i],{size:27,anchor:"end",rot:-90,fill:NAVY,len:40});
});
panelsE.forEach(p=>gE.append("rect").attr("x",p[0]).attr("y",197.7).attr("width",p[1]-p[0]).attr("height",210.6).attr("fill","none").attr("stroke","#333").attr("stroke-width",1.5));
const axE=gE.append("g").attr("transform","translate(748.7,0)").call(d3.axisLeft(yE).tickValues([0,1000,2000]).tickSize(3).tickPadding(4).tickFormat(d3.format("d")));
axE.select(".domain").remove();axE.selectAll("line").attr("stroke","#333");
axE.selectAll("text").attr("font-size",14.5).style("font-family",'"Open Sans"');
T(gE,697,291.5,"Proteins",{size:26,rot:-90,len:91});
T(gE,790,190.5,"Q-I",{size:15.5});
T(gE,877.5,190.5,"Q-III",{size:15.5});
[[790.5,772,809,251.7],[876,857.7,894,221]].forEach(s=>{
  T(gE,s[0],s[3]+5.5,"***",{size:20});
  gE.append("line").attr("x1",s[1]).attr("x2",s[2]).attr("y1",s[3]).attr("y2",s[3]).attr("stroke","#222").attr("stroke-width",1.2);
});
// quadrant key
const qx0=944.3,qx1=1029,qy0=266,qy1=350.7,qmx=986.7,qmy=308.3;
gE.append("path").attr("d",`M${qmx},${qy0}H${qx1}L${qmx},${qmy}z`).attr("fill",quadColors[1]);
gE.append("path").attr("d",`M${qx1},${qy0}V${qmy}H${qmx}z`).attr("fill",quadColors[0]);
gE.append("path").attr("d",`M${qx0},${qmy}H${qmx}L${qx0},${qy1}z`).attr("fill",quadColors[2]);
gE.append("path").attr("d",`M${qmx},${qmy}V${qy1}H${qx0}z`).attr("fill",quadColors[3]);
[[965,287,qx0,qmx,qy0,qmy],[1008,330,qmx,qx1,qmy,qy1]].forEach(c=>{
  gE.append("line").attr("x1",c[0]).attr("x2",c[0]).attr("y1",c[4]).attr("y2",c[5]).attr("stroke","#CFCFCF").attr("stroke-width",1.3);
  gE.append("line").attr("x1",c[2]).attr("x2",c[3]).attr("y1",c[1]).attr("y2",c[1]).attr("stroke","#CFCFCF").attr("stroke-width",1.3);
});
gE.append("line").attr("x1",qx0).attr("y1",qy1).attr("x2",qx1).attr("y2",qy0).attr("stroke","#111").attr("stroke-width",1.2);
gE.append("path").attr("d",`M${qmx},${qy0}V${qy1}M${qx0},${qmy}H${qx1}`).attr("stroke","#333").attr("stroke-width",1.3);
gE.append("rect").attr("x",qx0).attr("y",qy0).attr("width",qx1-qx0).attr("height",qy1-qy0).attr("fill","none").attr("stroke","#333").attr("stroke-width",1.5);
T(gE,1004,259,"Q-I",{size:15.5});
T(gE,965,370,"Q-III",{size:15.5});

// ---------- F ----------
const gF=svg.append("g");
const xF=d3.scaleBand().domain(d3.range(20)).range([704.6,1040.2]).paddingInner(0.09).paddingOuter(0.02);
const groupCol={H:"#AB9333",M:"#2C3E98",K:"#0DA750"};
const FL=702.7,FR=1042;
function panelF(vals,top,bottom,y0,y30,name,nameLen){
  const y=d3.scaleLinear().domain([0,30]).range([y0,y30]);
  [5,15,25].forEach(v=>gF.append("line").attr("x1",FL).attr("x2",FR).attr("y1",y(v)).attr("y2",y(v)).attr("stroke","#F0F0F0").attr("stroke-width",.8));
  [0,10,20,30].forEach(v=>gF.append("line").attr("x1",FL).attr("x2",FR).attr("y1",y(v)).attr("y2",y(v)).attr("stroke","#EBEBEB").attr("stroke-width",1.4));
  d3.range(20).forEach(i=>{const c=xF(i)+xF.bandwidth()/2;gF.append("line").attr("x1",c).attr("x2",c).attr("y1",top).attr("y2",bottom).attr("stroke","#EBEBEB").attr("stroke-width",1.3);});
  gF.append("g").selectAll("rect").data(vals).join("rect")
    .attr("x",(d,i)=>xF(i)).attr("width",xF.bandwidth())
    .attr("y",d=>y(d)).attr("height",d=>y0-y(d))
    .attr("display",d=>d>0?null:"none")
    .attr("fill",(d,i)=>groupCol[channelGroup[i]]).attr("stroke","#555").attr("stroke-width",1);
  gF.append("rect").attr("x",FL).attr("y",top).attr("width",FR-FL).attr("height",bottom-top).attr("fill","none").attr("stroke","#222").attr("stroke-width",1.5);
  const ax=gF.append("g").attr("transform",`translate(${FL},0)`).call(d3.axisLeft(y).tickValues([0,10,20,30]).tickSize(3).tickPadding(3));
  ax.select(".domain").remove();ax.selectAll("line").attr("stroke","#333");
  ax.selectAll("text").attr("font-size",15).style("font-family",'"Open Sans"');
  T(gF,706,top+20,name,{size:19.5,weight:700,anchor:"start",fill:"#111",len:nameLen});
}
panelF(endoglin,491.7,612.3,606.7,504,"Endoglin",66);
panelF(alpk2,617.3,735,730.3,631,"ALPK2",47);
gF.append("rect").attr("x",FL).attr("y",735).attr("width",FR-FL).attr("height",20).attr("fill","none").attr("stroke","#222").attr("stroke-width",1.4);
gF.append("line").attr("x1",872.3).attr("x2",872.3).attr("y1",735).attr("y2",755).attr("stroke","#222").attr("stroke-width",1.4);
[[725,"HCT116"],[779.7,"MCF7"],[838,"HEK293"],[899,"HCT116"],[947,"MCF7"],[1006.7,"HEK293"]].forEach(s=>T(gF,s[0],750,s[1],{size:10.3}));
T(gF,785.7,780.7,"SPS",{size:26,fill:NAVY,len:41});
T(gF,946.7,780.7,"RTS",{size:26,fill:NAVY,len:41});
T(gF,666.5,621.5,"Normalized TMT Intensity",{size:15,rot:-90,len:173});
</script>
</body></html>
